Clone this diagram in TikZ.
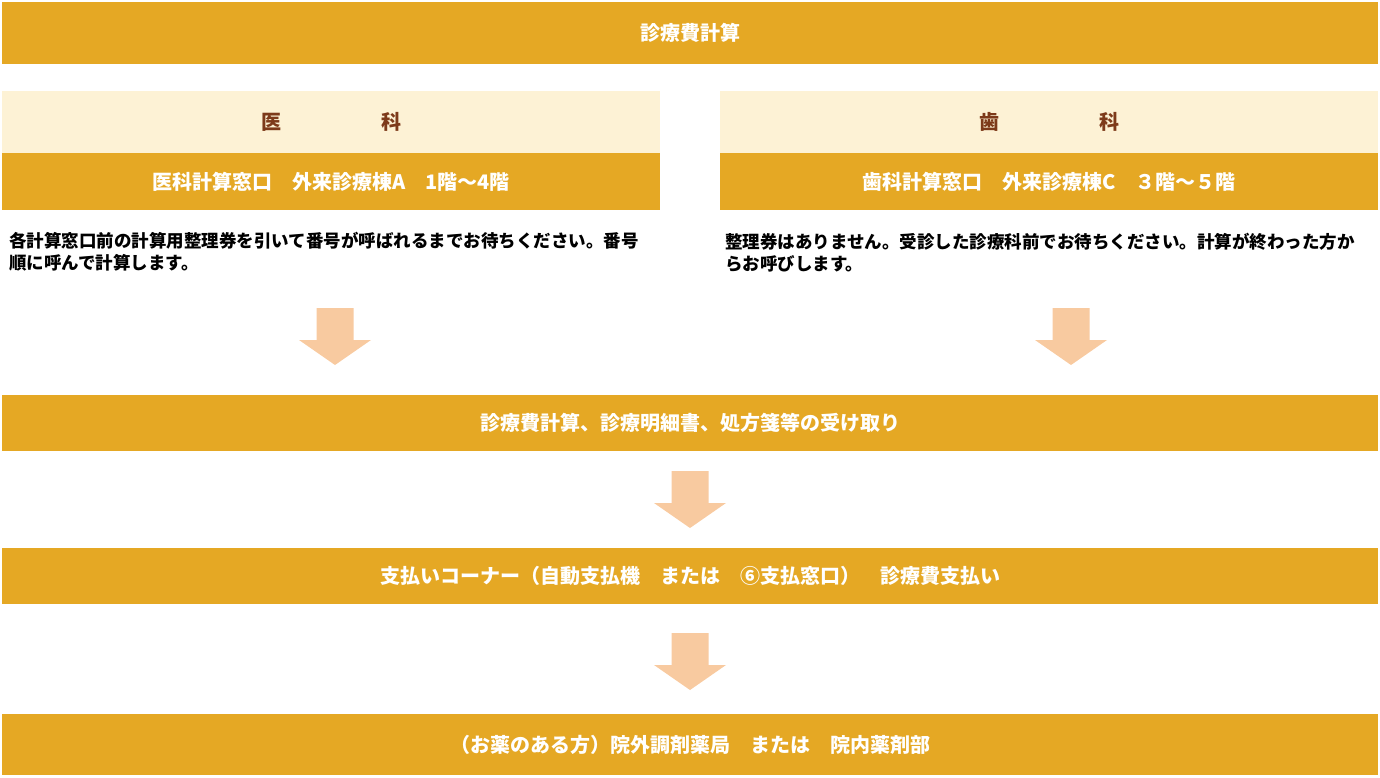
\documentclass[tikz,border=0pt]{standalone}
\usepackage{fontspec}
\setmainfont{Noto Sans CJK JP}
\usepackage{tikz}
\definecolor{barorange}{RGB}{229, 168, 36}
\definecolor{lightcream}{RGB}{253, 242, 213}
\definecolor{arrowpeach}{RGB}{248, 202, 160}
\definecolor{headbrown}{RGB}{125, 58, 26}

\begin{document}
\begin{tikzpicture}[x=1pt,y=-1pt,
        bar/.style={fill=barorange,text=white,inner sep=0pt,font=\fontsize{20}{22}\selectfont\bfseries},
        deptbox/.style={fill=lightcream,text=headbrown,inner sep=0pt,font=\fontsize{20}{22}\selectfont\bfseries},
        note/.style={anchor=west,align=left,inner sep=0pt,font=\fontsize{17.5}{22}\selectfont\bfseries}]
        \useasboundingbox (0,0) rectangle (1380,777);
        \coordinate (top) at (690,33);
        \coordinate (ml) at (331,122);
        \coordinate (mr) at (1049,122);
        \coordinate (wl) at (331,181.5);
        \coordinate (wr) at (1049,181.5);
        \coordinate (tl) at (9,252);
        \coordinate (tr) at (725,253);
        \coordinate (s1) at (690,423);
        \coordinate (s2) at (690,576);
        \coordinate (s3) at (690,744.5);

        \coordinate (a1) at (335,308);
        \coordinate (a2) at (1071,308);
        \coordinate (a3) at (690,471);
        \coordinate (a4) at (690,633);

        \node[bar,minimum width=1376pt,minimum height=62pt] (total) at (top) {診療費計算};
        \node[deptbox,minimum width=658pt,minimum height=63pt] (medhead) at (ml) {医　　　　　科};
        \node[deptbox,minimum width=658pt,minimum height=63pt] (denthead) at (mr) {歯　　　　　科};
        \node[bar,minimum width=658pt,minimum height=57pt] (medwin) at (wl) {医科計算窓口　外来診療棟A　1階～4階};
        \node[bar,minimum width=658pt,minimum height=57pt] (dentwin) at (wr) {歯科計算窓口　外来診療棟C　３階～５階};
        \node[note] (mednote) at (tl) {各計算窓口前の計算用整理券を引いて番号が呼ばれるまでお待ちください。番号\\順に呼んで計算します。};
        \node[note] (dentnote) at (tr) {整理券はありません。受診した診療科前でお待ちください。計算が終わった方か\\らお呼びします。};
        \node[bar,minimum width=1376pt,minimum height=56pt] (receipt) at (s1) {診療費計算、診療明細書、処方箋等の受け取り};
        \node[bar,minimum width=1376pt,minimum height=56pt] (payment) at (s2) {支払いコーナー（自動支払機　または　⑥支払窓口）　診療費支払い};
        \node[bar,minimum width=1376pt,minimum height=61pt] (pharmacy) at (s3) {（お薬のある方）院外調剤薬局　または　院内薬剤部};

        \foreach \a in {a1,a2,a3,a4}
            \fill[arrowpeach,shift={(\a)}] (-18.5,0) -- (18.5,0) -- (18.5,32) -- (36,32) -- (0,57) -- (-36,32) -- (-18.5,32) -- cycle;
    \end{tikzpicture}
\end{document}
